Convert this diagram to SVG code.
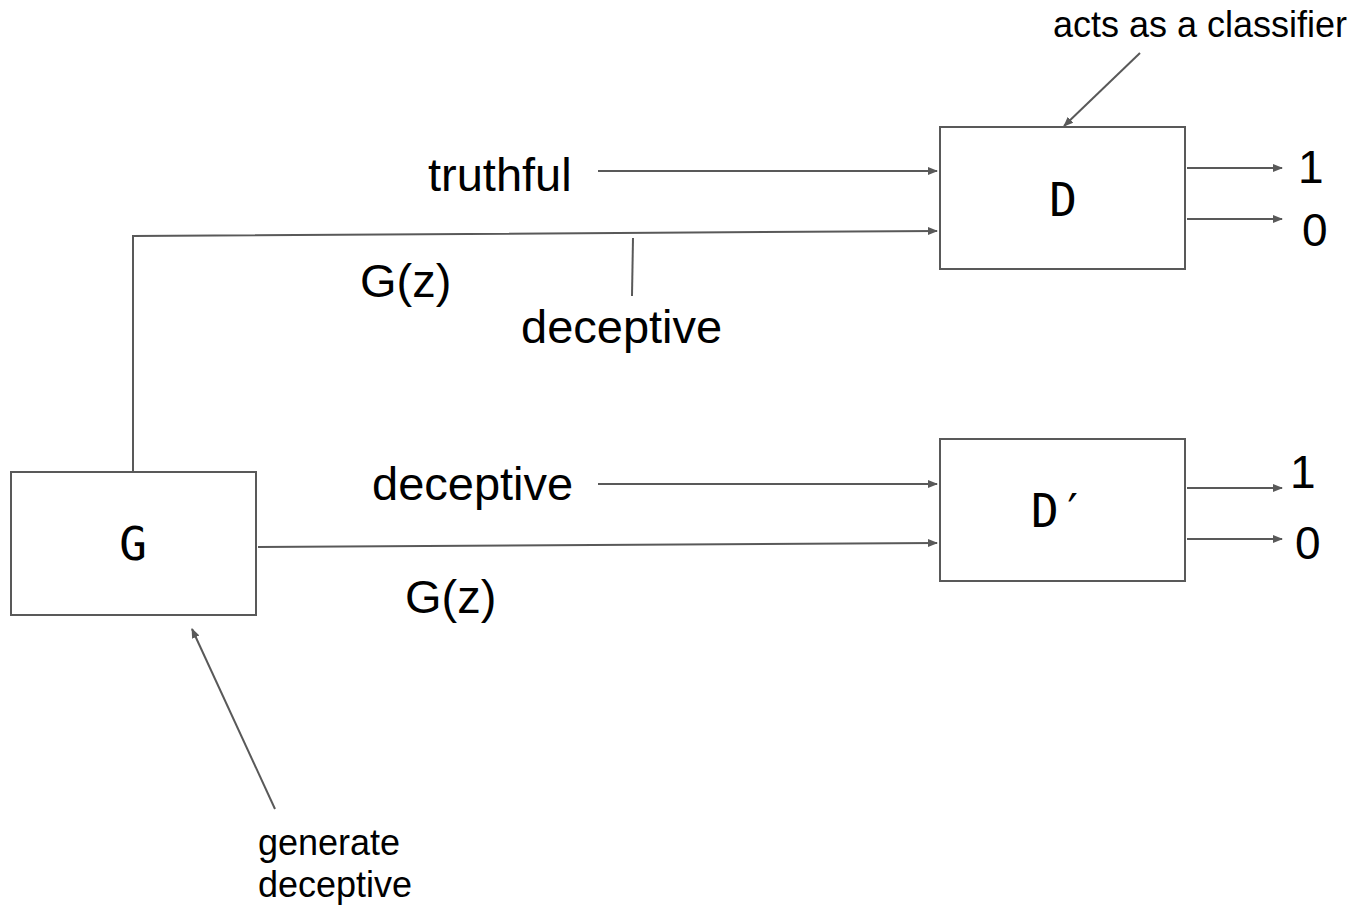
<svg xmlns="http://www.w3.org/2000/svg" width="1364" height="906" viewBox="0 0 1364 906">
  <style>
    .box { fill: #ffffff; stroke: #595959; stroke-width: 2; }
    .wire { fill: none; stroke: #595959; stroke-width: 2; }
    .lbl { font-family: "Liberation Sans", Arial, sans-serif; fill: #000000; }
    .big { font-size: 47px; }
    .small { font-size: 36px; }
    .digit { font-size: 46px; }
    .mono { font-family: "DejaVu Sans Mono", "Liberation Mono", monospace; fill: #000000; font-size: 46px; }
  </style>
  <defs>
    <marker id="arrow" viewBox="0 0 10 10" refX="9" refY="5" markerWidth="5" markerHeight="5" orient="auto" markerUnits="strokeWidth">
      <path d="M0,1 L10,5 L0,9 Z" fill="#595959"/>
    </marker>
  </defs>

  <rect width="1364" height="906" fill="#ffffff"/>

  <!-- connectors -->
  <g id="connectors">
    <!-- inputs to D -->
    <line class="wire" x1="598" y1="171" x2="937" y2="171" marker-end="url(#arrow)"/>
    <polyline class="wire" points="133,471 133,236 937,231" marker-end="url(#arrow)"/>
    <!-- D outputs -->
    <line class="wire" x1="1187" y1="168" x2="1282" y2="168" marker-end="url(#arrow)"/>
    <line class="wire" x1="1187" y1="219" x2="1282" y2="219" marker-end="url(#arrow)"/>
    <!-- inputs to D' -->
    <line class="wire" x1="598" y1="484" x2="937" y2="484" marker-end="url(#arrow)"/>
    <line class="wire" x1="258" y1="547" x2="937" y2="543" marker-end="url(#arrow)"/>
    <!-- D' outputs -->
    <line class="wire" x1="1187" y1="488" x2="1282" y2="488" marker-end="url(#arrow)"/>
    <line class="wire" x1="1187" y1="539" x2="1282" y2="539" marker-end="url(#arrow)"/>
    <!-- annotation pointers -->
    <line class="wire" x1="1140" y1="53" x2="1064" y2="126" marker-end="url(#arrow)"/>
    <line class="wire" x1="633" y1="238" x2="632" y2="296"/>
    <line class="wire" x1="275" y1="809" x2="192" y2="629" marker-end="url(#arrow)"/>
  </g>

  <!-- nodes -->
  <g id="node-G">
    <rect class="box" x="11" y="472" width="245" height="143"/>
    <text class="mono" x="133" y="560" text-anchor="middle">G</text>
  </g>
  <g id="node-D">
    <rect class="box" x="940" y="127" width="245" height="142"/>
    <text class="mono" x="1063" y="216" text-anchor="middle">D</text>
  </g>
  <g id="node-D-prime">
    <rect class="box" x="940" y="439" width="245" height="142"/>
    <text class="mono" x="1031" y="527">D′</text>
  </g>

  <!-- labels -->
  <g id="labels" class="lbl">
    <text class="small" x="1053" y="37">acts as a classifier</text>
    <text class="big" x="428" y="191">truthful</text>
    <text class="big" x="360" y="297">G(z)</text>
    <text class="big" x="521" y="343">deceptive</text>
    <text class="big" x="372" y="500">deceptive</text>
    <text class="big" x="405" y="613">G(z)</text>
    <text class="digit" x="1298" y="183">1</text>
    <text class="digit" x="1302" y="246">0</text>
    <text class="digit" x="1290" y="488">1</text>
    <text class="digit" x="1295" y="559">0</text>
    <text class="small" x="258" y="855">generate</text>
    <text class="small" x="258" y="897">deceptive</text>
  </g>
</svg>
